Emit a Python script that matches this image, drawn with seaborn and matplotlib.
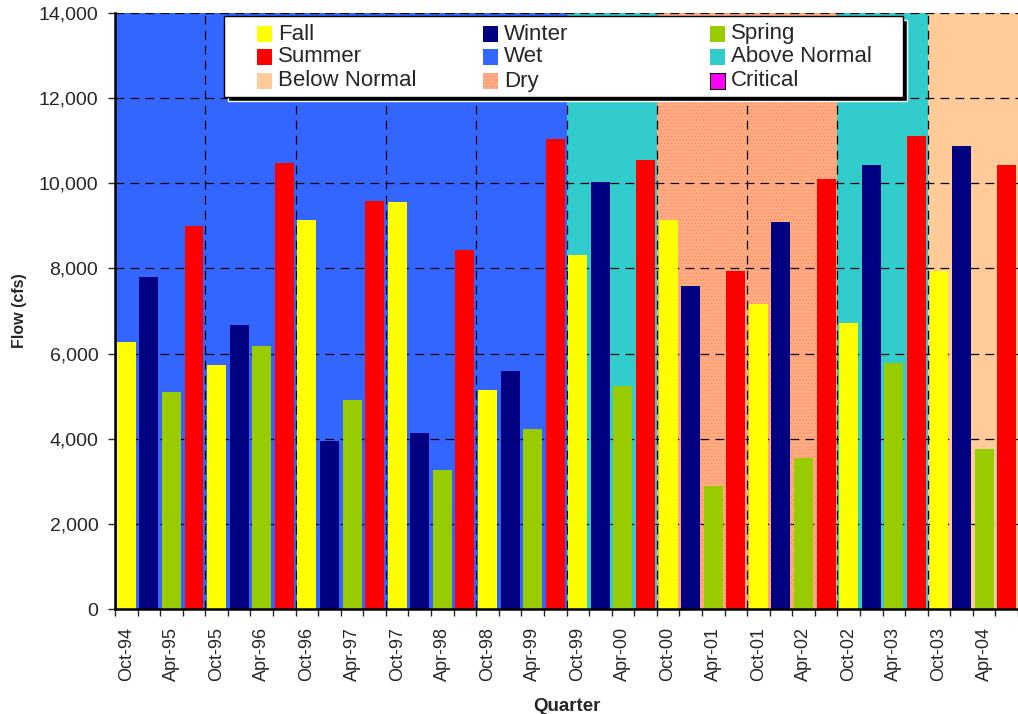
import numpy as np
import pandas as pd
import seaborn as sns
import matplotlib.pyplot as plt
from matplotlib.patches import Rectangle
from matplotlib.ticker import FuncFormatter

# quarterly flow data, Oct-94 .. Jul-04
quarters = ['Oct-94', 'Jan-95', 'Apr-95', 'Jul-95', 'Oct-95', 'Jan-96', 'Apr-96', 'Jul-96',
            'Oct-96', 'Jan-97', 'Apr-97', 'Jul-97', 'Oct-97', 'Jan-98', 'Apr-98', 'Jul-98',
            'Oct-98', 'Jan-99', 'Apr-99', 'Jul-99', 'Oct-99', 'Jan-00', 'Apr-00', 'Jul-00',
            'Oct-00', 'Jan-01', 'Apr-01', 'Jul-01', 'Oct-01', 'Jan-02', 'Apr-02', 'Jul-02',
            'Oct-02', 'Jan-03', 'Apr-03', 'Jul-03', 'Oct-03', 'Jan-04', 'Apr-04', 'Jul-04']
seasons = ['Fall', 'Winter', 'Spring', 'Summer'] * 10
flow = [6280, 7800, 5100, 9000,
        5720, 6680, 6170, 10470,
        9130, 3950, 4920, 9580,
        9560, 4130, 3260, 8430,
        5150, 5580, 4220, 11030,
        8320, 10030, 5240, 10540,
        9130, 7580, 2900, 7930,
        7160, 9100, 3550, 10090,
        6720, 10430, 5780, 11110,
        7930, 10870, 3750, 10430]
# water year type for each Oct-Sep year
year_types = ['Wet', 'Wet', 'Wet', 'Wet', 'Wet', 'Above Normal',
              'Dry', 'Dry', 'Above Normal', 'Below Normal']

season_colors = {'Fall': '#FFFF00', 'Winter': '#000080', 'Spring': '#99CC00', 'Summer': '#FF0000'}
type_colors = {'Wet': '#3366FF', 'Above Normal': '#33CCCC', 'Below Normal': '#FFCC99',
               'Dry': '#FFAE88', 'Critical': '#FF00FF'}

df = pd.DataFrame({'quarter': quarters, 'season': seasons, 'flow': flow})

sns.set_style('white')
plt.rcParams['font.family'] = ['Liberation Sans', 'DejaVu Sans']
plt.rcParams['hatch.color'] = '#FF8C5A'
plt.rcParams['hatch.linewidth'] = 0.7

W, H = 1018, 714
fig = plt.figure(figsize=(W / 100, H / 100), dpi=100)
ax = fig.add_axes([115 / W, 1 - 609 / H, (W - 115) / W, (609 - 13) / H])

# water year background shading
for k, wt in enumerate(year_types):
    if wt == 'Dry':
        ax.axvspan(4 * k - 0.5, 4 * k + 3.5, facecolor=type_colors[wt], edgecolor='#FF8C5A',
                   hatch='.....', linewidth=0, zorder=0)
    else:
        ax.axvspan(4 * k - 0.5, 4 * k + 3.5, color=type_colors[wt], linewidth=0, zorder=0)

# grid
for y in range(2000, 14001, 2000):
    ax.axhline(y, color='black', lw=0.9, ls=(0, (7, 5)), zorder=1)
for k in range(1, len(year_types)):
    ax.axvline(4 * k - 0.5, color='black', lw=0.9, ls=(0, (7, 5)), zorder=1)

sns.barplot(data=df, x='quarter', y='flow', hue='season', order=quarters,
            hue_order=['Fall', 'Winter', 'Spring', 'Summer'], palette=season_colors,
            dodge=False, width=0.84, linewidth=0, saturation=1, ax=ax, zorder=2, legend=False)

ax.set_xlim(-0.5, 39.5)
ax.set_ylim(0, 14000)
ax.yaxis.set_major_locator(plt.MultipleLocator(2000))
ax.yaxis.set_major_formatter(FuncFormatter(lambda v, p: f'{int(v):,}'))
ax.tick_params(axis='y', labelsize=14, length=5, width=1, direction='out', left=True, pad=7)

ax.set_xticks(range(0, 40, 2))
ax.set_xticklabels(quarters[::2], rotation=90, fontsize=13)
ax.set_xticks(np.arange(-0.5, 40, 1), minor=True)
ax.tick_params(axis='x', which='major', length=0, pad=13)
ax.tick_params(axis='x', which='minor', length=5, width=1, direction='out', bottom=True)

ax.set_xlabel('Quarter', fontsize=13.5, fontweight='bold', labelpad=12)
ax.set_ylabel('Flow (cfs)', fontsize=11.5, fontweight='bold', labelpad=8)

for side in ['top', 'right']:
    ax.spines[side].set_visible(False)
for side in ['left', 'bottom']:
    ax.spines[side].set_linewidth(1.8)
    ax.spines[side].set_color('black')


# legend box drawn in pixel positions (top-left origin)
def fx(px):
    return px / W


def fy(py):
    return 1 - py / H


fig.patches.append(Rectangle((fx(228), fy(101)), fx(903) - fx(224), fy(16) - fy(97),
                             transform=fig.transFigure, facecolor='black', zorder=5))
fig.patches.append(Rectangle((fx(224), fy(97)), fx(903) - fx(224), fy(16) - fy(97),
                             transform=fig.transFigure, facecolor='white', edgecolor='black',
                             linewidth=1, zorder=6))

legend_rows = [['Fall', 'Winter', 'Spring'],
               ['Summer', 'Wet', 'Above Normal'],
               ['Below Normal', 'Dry', 'Critical']]
swatch = {**season_colors, **type_colors}
col_x = [257, 483, 710]
row_y = [34, 57, 81]
for r, row in enumerate(legend_rows):
    for c, name in enumerate(row):
        kw = dict(facecolor=swatch[name], linewidth=0)
        if name == 'Dry':
            kw.update(edgecolor='#FF8C5A', hatch='.....')
        if name == 'Critical':
            kw.update(edgecolor='black', linewidth=0.8)
        fig.patches.append(Rectangle((fx(col_x[c]), fy(row_y[r] + 7.5)), 15 / W, 15 / H,
                                     transform=fig.transFigure, zorder=7, **kw))
        fig.text(fx(col_x[c] + 21), fy(row_y[r]), name, fontsize=16, va='center',
                 ha='left', zorder=8)

plt.savefig('out.png', dpi=100)
